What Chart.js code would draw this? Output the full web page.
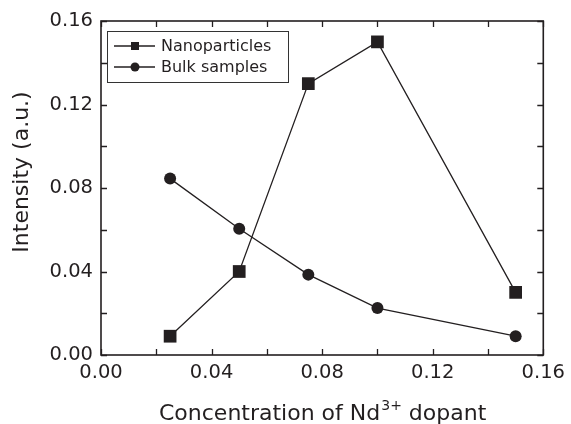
<!DOCTYPE html>
<html>
<head>
<meta charset="utf-8">
<script src="https://cdn.jsdelivr.net/npm/chart.js@4/dist/chart.umd.min.js"></script>
<style>
  html, body { margin: 0; padding: 0; background: #fff; }
  #c { display: block; }
</style>
</head>
<body>
<canvas id="c" width="571" height="424"></canvas>
<script>
// data
const concentrations = [0.025, 0.05, 0.075, 0.1, 0.15];
const nanoparticles = [0.009, 0.04, 0.13, 0.15, 0.03];
const bulkSamples = [0.0845, 0.0605, 0.0385, 0.0225, 0.009];
const seriesNames = ['Nanoparticles', 'Bulk samples'];
const xTitle = ['Concentration of Nd', '3+', ' dopant'];
const yTitle = 'Intensity (a.u.)';

const INK = '#231f20';
const FONT = '"DejaVu Sans", sans-serif';

const toPoints = ys => concentrations.map((x, i) => ({x, y: ys[i]}));
const tickLabel = (v, i) => (i % 2 ? '' : v.toFixed(2));

// inward ticks on all four sides + frame
const frame = {
  id: 'frame',
  afterDatasetsDraw(chart) {
    const {ctx, chartArea: a, scales: {x, y}} = chart;
    ctx.save();
    ctx.strokeStyle = INK;
    ctx.lineWidth = 1.3;
    ctx.beginPath();
    for (let v = 0; v <= 0.1601; v += 0.02) {
      const px = Math.round(x.getPixelForValue(v)) + 0.5;
      ctx.moveTo(px, a.bottom); ctx.lineTo(px, a.bottom - 6);
      ctx.moveTo(px, a.top); ctx.lineTo(px, a.top + 6);
      const py = Math.round(y.getPixelForValue(v)) + 0.5;
      ctx.moveTo(a.left, py); ctx.lineTo(a.left + 6, py);
      ctx.moveTo(a.right, py); ctx.lineTo(a.right - 6, py);
    }
    ctx.stroke();
    ctx.lineWidth = 1.6;
    ctx.strokeRect(a.left, a.top, a.right - a.left, a.bottom - a.top);
    ctx.restore();
  }
};

// legend box inside the plot
const legendBox = {
  id: 'legendBox',
  afterDraw(chart) {
    const {ctx, chartArea: a} = chart;
    const bx = a.left + 6, by = a.top + 10, bw = 181, bh = 51;
    ctx.save();
    ctx.fillStyle = '#fff';
    ctx.fillRect(bx, by, bw, bh);
    ctx.strokeStyle = '#333';
    ctx.lineWidth = 1;
    ctx.strokeRect(bx + 0.5, by + 0.5, bw, bh);
    chart.data.datasets.forEach((ds, i) => {
      const cy = by + 15 + i * 21;
      ctx.strokeStyle = INK;
      ctx.lineWidth = 1.3;
      ctx.beginPath();
      ctx.moveTo(bx + 7, cy); ctx.lineTo(bx + 48, cy);
      ctx.stroke();
      ctx.fillStyle = INK;
      if (ds.pointStyle === 'rect') {
        ctx.fillRect(bx + 28 - 4, cy - 4, 8, 8);
      } else {
        ctx.beginPath();
        ctx.arc(bx + 28, cy, 4.5, 0, Math.PI * 2);
        ctx.fill();
      }
      ctx.font = '16px ' + FONT;
      ctx.textBaseline = 'middle';
      ctx.fillText(ds.label, bx + 54, cy + 1);
    });
    ctx.restore();
  }
};

// axis titles (x title has a superscript)
const titles = {
  id: 'titles',
  afterDraw(chart) {
    const {ctx, chartArea: a} = chart;
    ctx.save();
    ctx.fillStyle = INK;
    ctx.textBaseline = 'alphabetic';
    const big = '22px ' + FONT, small = '14px ' + FONT;
    ctx.font = big; const w1 = ctx.measureText(xTitle[0]).width, w3 = ctx.measureText(xTitle[2]).width;
    ctx.font = small; const w2 = ctx.measureText(xTitle[1]).width;
    let x0 = (a.left + a.right) / 2 - (w1 + w2 + w3) / 2;
    const base = 420;
    ctx.font = big; ctx.fillText(xTitle[0], x0, base);
    ctx.font = small; ctx.fillText(xTitle[1], x0 + w1 + 1, base - 10);
    ctx.font = big; ctx.fillText(xTitle[2], x0 + w1 + w2 + 1, base);

    ctx.translate(28, 172);
    ctx.rotate(-Math.PI / 2);
    ctx.textAlign = 'center';
    ctx.font = big;
    ctx.fillText(yTitle, 0, 0);
    ctx.restore();
  }
};

new Chart(document.getElementById('c'), {
  type: 'line',
  data: {
    datasets: [
      {label: seriesNames[0], data: toPoints(nanoparticles), pointStyle: 'rect', pointRadius: 9},
      {label: seriesNames[1], data: toPoints(bulkSamples), pointStyle: 'circle', pointRadius: 6}
    ].map(d => Object.assign(d, {
      borderColor: INK, backgroundColor: INK, borderWidth: 1.3,
      pointBackgroundColor: INK, pointBorderColor: INK, pointBorderWidth: 0,
      pointHoverRadius: d.pointRadius, tension: 0, clip: false
    }))
  },
  options: {
    responsive: false,
    animation: false,
    devicePixelRatio: 1,
    layout: {padding: {left: 0, top: 21, right: 24, bottom: 0}},
    plugins: {legend: {display: false}, tooltip: {enabled: false}},
    scales: {
      x: {
        type: 'linear', min: 0, max: 0.16,
        grid: {display: false, drawTicks: false}, border: {display: false},
        ticks: {stepSize: 0.02, callback: tickLabel, color: INK, font: {family: FONT, size: 19.5}, padding: 6, maxRotation: 0, autoSkip: false},
        afterFit: s => { s.height = 69; }
      },
      y: {
        min: 0, max: 0.16,
        grid: {display: false, drawTicks: false}, border: {display: false},
        ticks: {stepSize: 0.02, callback: tickLabel, color: INK, font: {family: FONT, size: 19.5}, padding: 8, autoSkip: false},
        afterFit: s => { s.width = 101; }
      }
    }
  },
  plugins: [frame, legendBox, titles]
});
</script>
</body>
</html>
